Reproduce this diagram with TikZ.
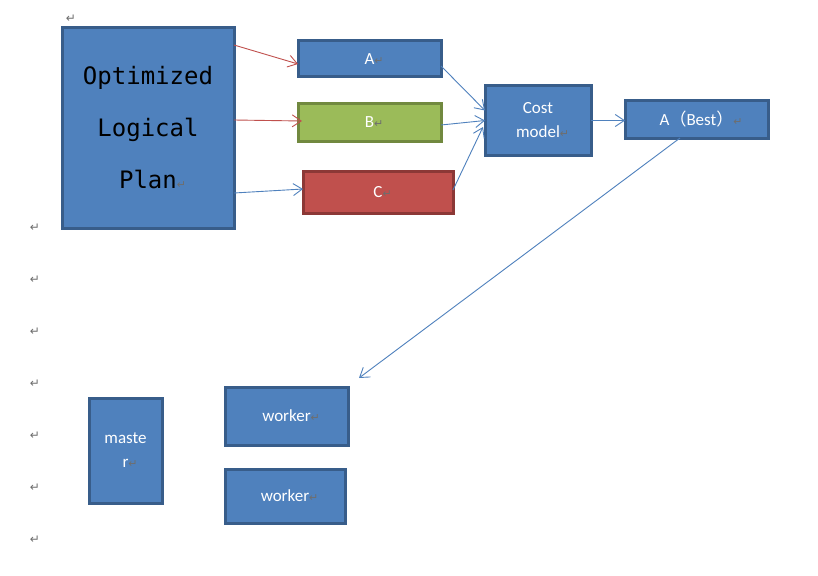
\documentclass[tikz,border=0pt]{standalone}
\usepackage{fontspec}
\setmainfont{Carlito}
\setmonofont{DejaVu Sans Mono}
\newfontfamily\cjkfont{Noto Sans CJK SC}
\newfontfamily\markfont{DejaVu Sans}
\usetikzlibrary{arrows.meta}
\definecolor{boxblue}{HTML}{4F81BD}
\definecolor{boxblueline}{HTML}{385D8A}
\definecolor{boxgreen}{HTML}{9BBB59}
\definecolor{boxgreenline}{HTML}{71893F}
\definecolor{boxred}{HTML}{C0504D}
\definecolor{boxredline}{HTML}{8C3836}
\definecolor{markgray}{HTML}{6E6E6E}
\newcommand{\pmark}{\rlap{\textcolor{markgray}{\markfont\fontsize{11}{11}\selectfont ↵}}}
\begin{document}
\begin{tikzpicture}[x=1pt,y=-1pt,
    box/.style={draw=boxblueline, fill=boxblue, line width=3pt, outer sep=0pt, inner sep=0pt,
      text=white, align=center, font=\fontsize{17}{24}\selectfont},
    arr/.style={-{Straight Barb[length=9pt,width=12pt]}, line width=0.9pt},
    parmark/.style={text=markgray, font=\markfont\fontsize{12}{12}\selectfont, inner sep=0pt}]
    \useasboundingbox[fill=white] (0,0) rectangle (818,575);
    \node[box, text=black, font=\ttfamily\fontsize{24}{52}\selectfont, minimum width=172pt, minimum height=200pt] (plan) at (148,128) {Optimized\\Logical\\Plan\pmark};
    \node[box, minimum width=143pt, minimum height=36pt] (a) at (369.5,59) {A\pmark};
    \node[box, draw=boxgreenline, fill=boxgreen, minimum width=143pt, minimum height=37pt] (b) at (369.5,122.5) {B\pmark};
    \node[box, draw=boxredline, fill=boxred, minimum width=150pt, minimum height=42pt] (c) at (378,192) {C\pmark};
    \node[box, minimum width=106pt, minimum height=69pt] (cost) at (538,120.5) {Cost\\model\pmark};
    \node[box, minimum width=143pt, minimum height=37pt] (best) at (696.5,119.5) {A{\cjkfont （}Best{\cjkfont ）}\pmark};
    \node[box, minimum width=73pt, minimum height=105pt] (master) at (125.5,450.5) {maste\\r\pmark};
    \node[box, minimum width=123pt, minimum height=58pt] (worker1) at (286.5,416) {worker\pmark};
    \node[box, minimum width=120pt, minimum height=54pt] (worker2) at (285,496) {worker\pmark};
    \draw[arr, boxred] ([yshift=83pt]plan.east) -- ([yshift=-5pt]a.west);
    \draw[arr, boxred] ([yshift=8pt]plan.east) -- ([xshift=4pt,yshift=1.5pt]b.west);
    \draw[arr, boxblue] ([yshift=-65pt]plan.east) -- ([yshift=3pt]c.west);
    \draw[arr, boxblue] ([yshift=-7pt]a.east) -- ([yshift=10pt]cost.west);
    \draw[arr, boxblue] ([yshift=-2.5pt]b.east) -- (cost.west);
    \draw[arr, boxblue] ([yshift=2pt]c.east) -- ([xshift=-2pt,yshift=-6.5pt]cost.west);
    \draw[arr, boxblue] (cost.east) -- (cost.east -| best.west);
    \draw[arr, boxblue] ([xshift=-16.5pt]best.south) -- ([xshift=72.5pt,yshift=9pt]worker1.north);
    \node[parmark] (m0) at (71,19) {↵};
    \foreach \y [count=\i] in {228,280,332,384,436,488,540}
      \node[parmark] (m\i) at (35,\y) {↵};
  \end{tikzpicture}
\end{document}
